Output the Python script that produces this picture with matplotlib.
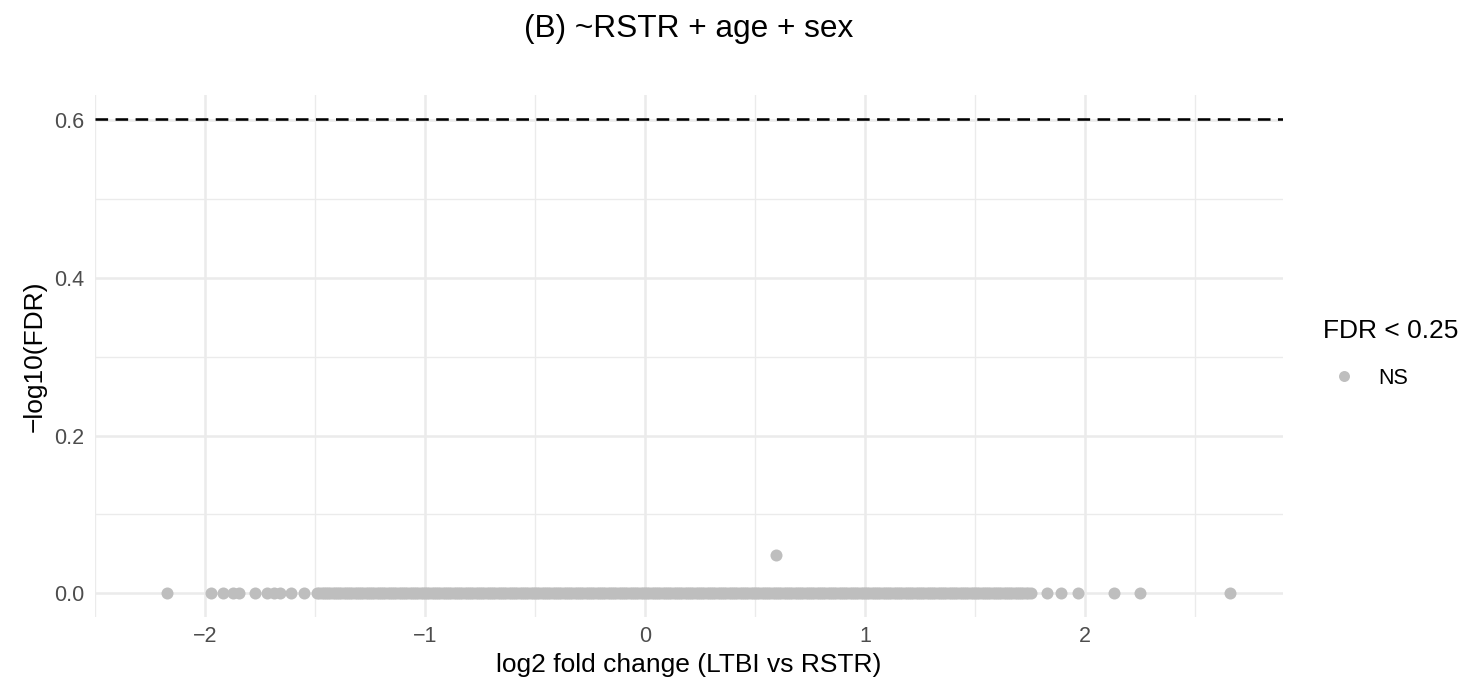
import numpy as np
import matplotlib.pyplot as plt
from matplotlib.lines import Line2D

plt.rcParams['font.family'] = ['Liberation Sans', 'DejaVu Sans']

# log2 fold change of genes sitting on the -log10(FDR) = 0 line (dense core)
lfc_band = [
    -1.49, -1.48, -1.47, -1.46, -1.45, -1.44, -1.43, -1.42, -1.41, -1.40,
    -1.39, -1.38, -1.37, -1.36, -1.35, -1.34, -1.33, -1.32, -1.31, -1.30,
    -1.29, -1.28, -1.27, -1.26, -1.25, -1.24, -1.23, -1.22, -1.21, -1.20,
    -1.19, -1.18, -1.17, -1.16, -1.15, -1.14, -1.13, -1.12, -1.11, -1.10,
    -1.09, -1.08, -1.07, -1.06, -1.05, -1.04, -1.03, -1.02, -1.01, -1.00,
    -0.99, -0.98, -0.97, -0.96, -0.95, -0.94, -0.93, -0.92, -0.91, -0.90,
    -0.89, -0.88, -0.87, -0.86, -0.85, -0.84, -0.83, -0.82, -0.81, -0.80,
    -0.79, -0.78, -0.77, -0.76, -0.75, -0.74, -0.73, -0.72, -0.71, -0.70,
    -0.69, -0.68, -0.67, -0.66, -0.65, -0.64, -0.63, -0.62, -0.61, -0.60,
    -0.59, -0.58, -0.57, -0.56, -0.55, -0.54, -0.53, -0.52, -0.51, -0.50,
    -0.49, -0.48, -0.47, -0.46, -0.45, -0.44, -0.43, -0.42, -0.41, -0.40,
    -0.39, -0.38, -0.37, -0.36, -0.35, -0.34, -0.33, -0.32, -0.31, -0.30,
    -0.29, -0.28, -0.27, -0.26, -0.25, -0.24, -0.23, -0.22, -0.21, -0.20,
    -0.19, -0.18, -0.17, -0.16, -0.15, -0.14, -0.13, -0.12, -0.11, -0.10,
    -0.09, -0.08, -0.07, -0.06, -0.05, -0.04, -0.03, -0.02, -0.01, 0.00,
    0.01, 0.02, 0.03, 0.04, 0.05, 0.06, 0.07, 0.08, 0.09, 0.10,
    0.11, 0.12, 0.13, 0.14, 0.15, 0.16, 0.17, 0.18, 0.19, 0.20,
    0.21, 0.22, 0.23, 0.24, 0.25, 0.26, 0.27, 0.28, 0.29, 0.30,
    0.31, 0.32, 0.33, 0.34, 0.35, 0.36, 0.37, 0.38, 0.39, 0.40,
    0.41, 0.42, 0.43, 0.44, 0.45, 0.46, 0.47, 0.48, 0.49, 0.50,
    0.51, 0.52, 0.53, 0.54, 0.55, 0.56, 0.57, 0.58, 0.59, 0.60,
    0.61, 0.62, 0.63, 0.64, 0.65, 0.66, 0.67, 0.68, 0.69, 0.70,
    0.71, 0.72, 0.73, 0.74, 0.75, 0.76, 0.77, 0.78, 0.79, 0.80,
    0.81, 0.82, 0.83, 0.84, 0.85, 0.86, 0.87, 0.88, 0.89, 0.90,
    0.91, 0.92, 0.93, 0.94, 0.95, 0.96, 0.97, 0.98, 0.99, 1.00,
    1.01, 1.02, 1.03, 1.04, 1.05, 1.06, 1.07, 1.08, 1.09, 1.10,
    1.11, 1.12, 1.13, 1.14, 1.15, 1.16, 1.17, 1.18, 1.19, 1.20,
    1.21, 1.22, 1.23, 1.24, 1.25, 1.26, 1.27, 1.28, 1.29, 1.30,
    1.31, 1.32, 1.33, 1.34, 1.35, 1.36, 1.37, 1.38, 1.39, 1.40,
    1.41, 1.42, 1.43, 1.44, 1.45, 1.46, 1.47, 1.48, 1.49, 1.50,
    1.51, 1.52, 1.53, 1.54, 1.55, 1.56, 1.57, 1.58, 1.59, 1.60,
    1.61, 1.62, 1.63, 1.64, 1.65, 1.66, 1.67, 1.68, 1.69, 1.70,
    1.71, 1.72, 1.73, 1.74, 1.755,
]
# isolated genes in both tails, also at -log10(FDR) = 0
lfc_tails = [-2.175, -1.973, -1.92, -1.875, -1.844, -1.772, -1.718, -1.687,
             -1.66, -1.607, -1.55, 1.827, 1.89, 1.97, 2.13, 2.25, 2.658]

# the one gene lifted off zero
lfc_top = [0.593]
nlfdr_top = [0.048]

fdr_cut = 0.25

x_ticks = [-2, -1, 0, 1, 2]
y_ticks = [0.0, 0.2, 0.4, 0.6]

pt_col = '#BEBEBE'
grid_col = '#EBEBEB'
W, H = 1468, 683

fig = plt.figure(figsize=(W / 100, H / 100), dpi=100)
ax = fig.add_axes([95 / W, 1 - 617 / H, (1283 - 95) / W, (617 - 95) / H])

lfc_zero = lfc_band + lfc_tails
ax.scatter(lfc_zero, [0.0] * len(lfc_zero), s=75, color=pt_col,
           linewidths=0, zorder=3)
ax.scatter(lfc_top, nlfdr_top, s=75, color=pt_col, linewidths=0, zorder=3)

ax.axhline(-np.log10(fdr_cut), color='black', lw=1.85,
           dashes=(4.9, 2.9), zorder=4)

# ggplot-like 5% expansion of both scales
xmin, xmax = min(lfc_zero), max(lfc_zero)
xpad = (xmax - xmin) * 0.05
ax.set_xlim(xmin - xpad, xmax + xpad)
ytop = -np.log10(fdr_cut)
ax.set_ylim(-ytop * 0.05, ytop * 1.05)

ax.set_xticks(x_ticks)
ax.set_xticklabels([str(t).replace('-', '\u2212') for t in x_ticks])
ax.set_yticks(y_ticks)
ax.set_yticklabels([f'{t:.1f}' for t in y_ticks])
ax.set_xticks([-2.5, -1.5, -0.5, 0.5, 1.5, 2.5], minor=True)
ax.set_yticks([0.1, 0.3, 0.5], minor=True)

ax.grid(True, which='major', color=grid_col, lw=1.85)
ax.grid(True, which='minor', color=grid_col, lw=0.95)
ax.set_axisbelow(True)
for s in ax.spines.values():
    s.set_visible(False)
ax.tick_params(which='both', length=0)
ax.tick_params(axis='both', labelsize=15.5, labelcolor='#4D4D4D')
ax.tick_params(axis='x', pad=6.5)
ax.tick_params(axis='y', pad=7.9)

ax.set_xlabel('log2 fold change (LTBI vs RSTR)', fontsize=19, labelpad=4.4)
ax.set_ylabel('\u2212log10(FDR)', fontsize=19, labelpad=5.4)
fig.text(689 / W, 1 - 37.5 / H, '(B) ~RSTR + age + sex', fontsize=22.8,
         ha='center', va='baseline')

# legend: title plus one key
fig.text(1323 / W, 1 - 338.5 / H, 'FDR < 0.25', fontsize=19,
         ha='left', va='baseline')
fig.add_artist(Line2D([1344 / W], [1 - 376 / H], marker='o', ls='none',
                      color=pt_col, markersize=7.9, markeredgewidth=0,
                      transform=fig.transFigure))
fig.text(1378 / W, 1 - 383.6 / H, 'NS', fontsize=15.5,
         ha='left', va='baseline')

fig.savefig('out.png', dpi=100)
